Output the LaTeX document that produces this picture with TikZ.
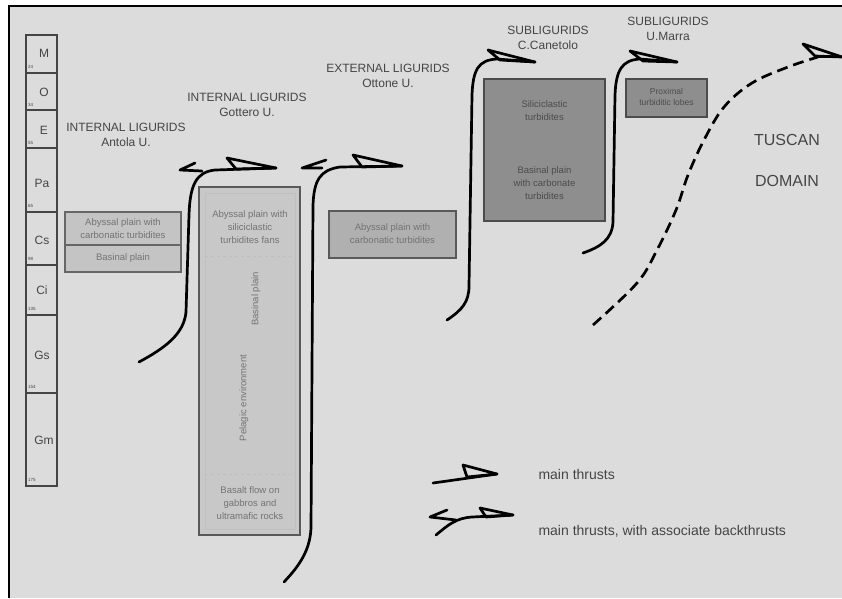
\documentclass[tikz,border=0pt]{standalone}
\usepackage{fontspec}
\setmainfont{Liberation Sans}
\usepackage{xcolor}
\usetikzlibrary{positioning}

\definecolor{paper}{HTML}{DCDCDC}
\definecolor{lightbox}{HTML}{C4C4C4}
\definecolor{darkbox}{HTML}{8E8E8E}
\definecolor{inkgray}{HTML}{454545}

\begin{document}
\begin{tikzpicture}[x=1pt,y=-1pt,
    thrust/.style={line width=2.7pt, line join=round, line cap=round},
    title/.style={align=center, text=inkgray, font=\fontsize{12}{15}\selectfont},
    boxtext/.style={align=center, text=black!55, font=\fontsize{9.5}{13}\selectfont},
    age/.style={text=inkgray, font=\fontsize{12}{12}\selectfont},
    agenum/.style={anchor=west, text=inkgray, font=\fontsize{4.5}{5}\selectfont, inner sep=0pt}]
    \useasboundingbox (0,0) rectangle (842,598);
    % Background and frame
    \fill[paper] (9,6) rectangle (842,598);
    \draw[line width=2.5pt] (9,598) -- (9,6) -- (842,6);

    % Stratigraphic column
    \draw[line width=1.4pt, inkgray] (26,35) rectangle (57,486);
    \foreach \y in {73,110,148,212,265,315,393}
        \draw[line width=1.4pt, inkgray] (26,\y) -- (57,\y);
    \node[age] (m) at (44,53) {M};
    \node[age] (o) at (44,92) {O};
    \node[age] (e) at (44,130) {E};
    \node[age] (pa) at (42,183) {Pa};
    \node[age] (cs) at (42,240) {Cs};
    \node[age] (ci) at (42,290) {Ci};
    \node[age] (gs) at (42,355) {Gs};
    \node[age] (gm) at (44,440) {Gm};
    \node[agenum] (n24) at (28,67) {24};
    \node[agenum] (n34) at (28,105) {34};
    \node[agenum] (n55) at (28,143) {55};
    \node[agenum] (n65) at (28,206) {65};
    \node[agenum] (n98) at (28,259) {98};
    \node[agenum] (n135) at (28,309) {135};
    \node[agenum] (n154) at (28,387) {154};
    \node[agenum] (n175) at (28,480) {175};

    % Internal Ligurids - Antola unit
    \node[title] (antola) at (126,135) {INTERNAL LIGURIDS\\Antola U.};
    \draw[line width=1.3pt, black!60, fill=lightbox] (65,212) rectangle (181,245);
    \draw[line width=1.3pt, black!60, fill=lightbox] (65,245) rectangle (181,272);
    \node[boxtext] (antolaA) at (123,228.5) {Abyssal plain with\\carbonatic turbidites};
    \node[boxtext] (antolaB) at (123,258.5) {Basinal plain};

    % Internal Ligurids - Gottero unit
    \node[title] (gottero) at (247,105) {INTERNAL LIGURIDS\\Gottero U.};
    \draw[line width=1.3pt, black!65, fill=lightbox!85!paper] (199,187) rectangle (300,535);
    \draw[black!25] (205,193) rectangle (295,529);
    \draw[black!25, dashed] (205,256) -- (295,256);
    \draw[black!25, dashed] (205,474) -- (295,474);
    \node[boxtext] (gotteroA) at (250,227) {Abyssal plain with\\siliciclastic\\turbidites fans};
    \node[boxtext, rotate=90] (gotteroB) at (256,299) {Basinal plain};
    \node[boxtext, rotate=90] (gotteroC) at (244,398) {Pelagic environment};
    \node[boxtext] (gotteroD) at (250,503) {Basalt flow on\\gabbros and\\ultramafic rocks};

    % External Ligurids - Ottone unit
    \node[title] (ottone) at (388,76) {EXTERNAL LIGURIDS\\Ottone U.};
    \draw[line width=1.3pt, black!65, fill=lightbox!90!black] (329,211) rectangle (456,258);
    \node[boxtext] (ottoneA) at (392.5,234) {Abyssal plain with\\carbonatic turbidites};

    % Subligurids - Canetolo and Marra units
    \node[title] (canetolo) at (548,38) {SUBLIGURIDS\\C.Canetolo};
    \draw[line width=1.3pt, black!70, fill=darkbox] (484,79) rectangle (605,221);
    \node[boxtext, text=black!70] (canetoloA) at (544.5,111) {Siliciclastic\\turbidites};
    \node[boxtext, text=black!70] (canetoloB) at (544.5,183) {Basinal plain\\with carbonate\\turbidites};
    \node[title] (marra) at (668,29) {SUBLIGURIDS\\U.Marra};
    \draw[line width=1.3pt, black!70, fill=darkbox] (626,79) rectangle (707,117);
    \node[boxtext, text=black!70, font=\fontsize{8.5}{10.5}\selectfont] (marraA) at (666.5,97) {Proximal\\turbiditic lobes};

    % Tuscan domain
    \node[title, font=\fontsize{16}{16}\selectfont] (tuscan) at (787,140) {TUSCAN};
    \node[title, font=\fontsize{16}{16}\selectfont] (domain) at (787,181) {DOMAIN};

    % Thrust below Antola unit (with backthrust)
    \draw[thrust] (139,362) .. controls (165,348) and (184,334) .. (186,312) -- (189,215)
        .. controls (190,185) and (196,172) .. (215,170) -- (276,168);
    \draw[thrust] (202,171) -- (180,170) -- (195,163);
    \draw[thrust] (227,158) -- (276,168) -- (236,169) -- cycle;

    % Thrust below Gottero unit (with backthrust)
    \draw[thrust] (284,582) .. controls (300,565) and (310,550) .. (311,528) -- (313,205)
        .. controls (314,180) and (320,170) .. (340,167) -- (402,166);
    \draw[thrust] (322,168) -- (302,168) -- (326,160);
    \draw[thrust] (353,155) -- (402,166) -- (362,167) -- cycle;

    % Thrust below Ottone unit
    \draw[thrust] (447,320) .. controls (462,310) and (469,302) .. (469,286) -- (472,95)
        .. controls (473,70) and (478,60) .. (497,59) -- (535,62);
    \draw[thrust] (488,50) -- (535,62) -- (500,60) -- cycle;

    % Thrust below Marra unit
    \draw[thrust] (583,253) .. controls (600,247) and (612,240) .. (613,222) -- (615,95)
        .. controls (616,70) and (622,60) .. (640,59) -- (677,62);
    \draw[thrust] (630,51) -- (677,62) -- (643,61) -- cycle;

    % Tuscan thrust (dashed)
    \draw[thrust, line cap=butt, dash pattern=on 11pt off 6pt] plot[smooth, tension=0.6] coordinates
        {(593,325) (637,283) (657,250) (676,210) (688,175) (704,140) (724,107) (752,83) (788,67) (818,57)};
    \draw[thrust] (818,57) -- (842,57);
    \draw[thrust] (803,44) -- (842,57) -- (815,56) -- cycle;

    % Legend
    \draw[thrust] (433,483) -- (497,474);
    \draw[thrust] (463,465) -- (497,474) -- (467,477) -- cycle;
    \node[anchor=west, text=inkgray, font=\fontsize{14}{14}\selectfont] (leg1) at (535,474) {main thrusts};
    \draw[thrust] (436,535) .. controls (448,525) and (456,518) .. (472,517) -- (513,515);
    \draw[thrust] (456,520) -- (430,517) -- (447,510);
    \draw[thrust] (480,508) -- (513,515) -- (486,517) -- cycle;
    \node[anchor=west, text=inkgray, font=\fontsize{14}{14}\selectfont] (leg2) at (535,531) {main thrusts, with associate backthrusts};
\end{tikzpicture}
\end{document}
